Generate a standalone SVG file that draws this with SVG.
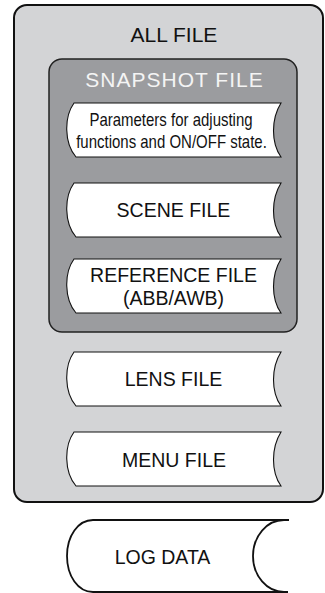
<svg xmlns="http://www.w3.org/2000/svg" xmlns:xlink="http://www.w3.org/1999/xlink" width="325" height="593" viewBox="0 0 325 593">
<style>
.lbl{font-family:"Liberation Sans",Arial,Helvetica,sans-serif;font-size:19.5px;fill:#111;text-anchor:middle}
.cond{font-family:"Liberation Sans",Arial,Helvetica,sans-serif;font-size:17.5px;fill:#111;text-anchor:middle}
.title{font-family:"Liberation Sans",Arial,Helvetica,sans-serif;font-size:21px;text-anchor:middle}
.doc{fill:#fff;stroke:#111;stroke-width:1.1}
</style>
<defs>
<path id="docShape" d="M74,0 L281,0 C271,16 271,40 281,54 L76,54 C64,40 64,14 74,0 Z"/>
</defs>
<rect width="325" height="593" fill="#fff"/>
<g id="all-file">
<rect x="14" y="5" width="309" height="497" rx="13" ry="13" fill="#d3d4d6" stroke="#111" stroke-width="2"/>
<text class="title" x="174" y="42" fill="#111">ALL FILE</text>
</g>
<g id="snapshot-file">
<rect x="49" y="59" width="248" height="273" rx="13" ry="13" fill="#9b9c9f" stroke="#222" stroke-width="1.5"/>
<text class="title" x="174.5" y="87" fill="#f4f4f4" letter-spacing="1">SNAPSHOT FILE</text>
</g>
<g id="parameters">
<use xlink:href="#docShape" class="doc" transform="translate(0,103)"/>
<text class="cond" transform="translate(171,126) scale(0.857,1)">Parameters for adjusting</text>
<text class="cond" transform="translate(171.5,148) scale(0.857,1)">functions and ON/OFF state.</text>
</g>
<g id="scene-file">
<use xlink:href="#docShape" class="doc" transform="translate(0,183)"/>
<text class="lbl" x="173.5" y="217">SCENE FILE</text>
</g>
<g id="reference-file">
<use xlink:href="#docShape" class="doc" transform="translate(0,259)"/>
<text class="lbl" x="173.5" y="282">REFERENCE FILE</text>
<text class="lbl" x="173.5" y="305">(ABB/AWB)</text>
</g>
<g id="lens-file">
<use xlink:href="#docShape" class="doc" transform="translate(0,352)"/>
<text class="lbl" x="173.5" y="386">LENS FILE</text>
</g>
<g id="menu-file">
<use xlink:href="#docShape" class="doc" transform="translate(0,432)"/>
<text class="lbl" x="174" y="467">MENU FILE</text>
</g>
<g id="log-data">
<path d="M93,520 H284 A31,36 0 0 0 284,592 H93 C78,592 67,576 67,556 C67,536 78,520 93,520 Z" fill="#fff" stroke="#111" stroke-width="1.8"/>
<path d="M284,520 H289 M284,592 H288" stroke="#111" stroke-width="1.8" fill="none"/>
<text class="lbl" x="162.5" y="564">LOG DATA</text>
</g>
<g id="connectors"/>
</svg>
